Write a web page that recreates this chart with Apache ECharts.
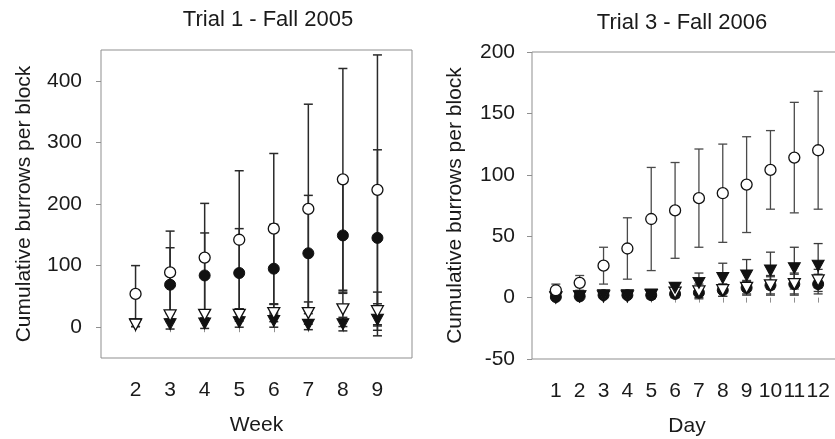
<!DOCTYPE html>
<html>
<head>
<meta charset="utf-8">
<script src="https://cdn.jsdelivr.net/npm/echarts@6/dist/echarts.min.js"></script>
<style>
  html, body { margin: 0; padding: 0; background: #fff; }
  #chart { width: 835px; height: 439px; }
</style>
</head>
<body>
<div id="chart"></div>
<script>
// Trial 1 (Fall 2005): cumulative burrows per block, by week (mean and error)
const weeks = [2, 3, 4, 5, 6, 7, 8, 9];
const t1OpenCircle     = [54, 89, 113, 142, 160, 192, 240, 223];
const t1OpenCircleErr  = [46, 67, 88, 112, 122, 170, 180, 219];
const t1FilledCircle    = [null, 69, 84, 88, 95, 120, 149, 145];
const t1FilledCircleErr = [null, 60, 69, 72, 72, 94, 94, 143];
const t1OpenTri     = [4, 19, 20, 20, 23, 23, 29, 26];
const t1OpenTriErr  = [3, 8, 8, 10, 14, 18, 28, 31];
const t1FilledTri    = [5, 5, 6, 8, 10, 4, 5, 12];
const t1FilledTriErr = [4, 8, 8, 8, 10, 8, 11, 26];

// Trial 3 (Fall 2006): cumulative burrows per block, by day
const days = [1, 2, 3, 4, 5, 6, 7, 8, 9, 10, 11, 12];
const t3OpenCircle     = [6, 12, 26, 40, 64, 71, 81, 85, 92, 104, 114, 120];
const t3OpenCircleErr  = [5, 6, 15, 25, 42, 39, 40, 40, 39, 32, 45, 48];
const t3FilledTri    = [0.5, 1, 2, 2, 2.5, 8, 12, 16, 18, 22, 24, 26];
const t3FilledTriErr = [1, 1, 2, 2, 3, 4, 8, 12, 13, 15, 17, 18];
const t3OpenTri     = [0, 1, 1, 1, 2, 4, 5, 6, 8, 10, 11, 14];
const t3OpenTriErr  = [1, 1, 1, 1, 3, 4, 6, 5, 6, 8, 9, 9];
const t3FilledCircle    = [0.5, 1, 2, 2, 2, 3, 4, 6, 8, 10, 11, 11];
const t3FilledCircleErr = [1, 1, 1, 1, 2, 3, 4, 5, 5, 7, 8, 8];

// Tick labels
const t1YTicks = [0, 100, 200, 300, 400];
const t3YTicks = [-50, 0, 50, 100, 150, 200];

const FONT = '"Liberation Sans", Arial, sans-serif';
const TEXT = '#1a1a1a';
const FRAME = '#8f8f8f';
const INK = '#111';

function points(xs, ys, errs) {
  const out = [];
  xs.forEach((x, i) => { if (ys[i] != null) out.push([x, ys[i], errs[i]]); });
  return out;
}

function errorBars(gi, data, color, width, cap) {
  return {
    type: 'custom', xAxisIndex: gi, yAxisIndex: gi, data, z: 2, silent: true,
    encode: { x: 0, y: 1 },
    renderItem(params, api) {
      const x = api.value(0), y = api.value(1), e = api.value(2);
      const top = api.coord([x, y + e]);
      const bot = api.coord([x, y - e]);
      const h = cap / 2;
      const st = { stroke: color, lineWidth: width };
      return {
        type: 'group', children: [
          { type: 'line', shape: { x1: top[0], y1: top[1], x2: bot[0], y2: bot[1] }, style: st },
          { type: 'line', shape: { x1: top[0] - h, y1: top[1], x2: top[0] + h, y2: top[1] }, style: st },
          { type: 'line', shape: { x1: bot[0] - h, y1: bot[1], x2: bot[0] + h, y2: bot[1] }, style: st }
        ]
      };
    }
  };
}

function markers(gi, data, kind) {
  const base = { type: 'scatter', xAxisIndex: gi, yAxisIndex: gi, data, z: 5, silent: true,
    encode: { x: 0, y: 1 } };
  if (kind === 'openCircle') return Object.assign(base, { symbol: 'circle', symbolSize: 11,
    itemStyle: { color: '#fff', borderColor: INK, borderWidth: 1.3, opacity: 1 } });
  if (kind === 'filledCircle') return Object.assign(base, { symbol: 'circle', symbolSize: 11,
    itemStyle: { color: INK, borderColor: INK, borderWidth: 1, opacity: 1 } });
  if (kind === 'openTri') return Object.assign(base, { symbol: 'triangle', symbolRotate: 180, symbolSize: [12, 11],
    itemStyle: { color: '#fff', borderColor: INK, borderWidth: 1.3, opacity: 1 } });
  return Object.assign(base, { symbol: 'triangle', symbolRotate: 180, symbolSize: [12, 11],
    itemStyle: { color: INK, borderColor: INK, borderWidth: 1, opacity: 1 } });
}

function xAxis(gi, min, max, ticks, name) {
  return {
    type: 'value', gridIndex: gi, min, max,
    name, nameLocation: 'middle', nameGap: 57,
    nameTextStyle: { fontFamily: FONT, fontSize: 21, color: TEXT },
    axisLine: { show: false },
    axisTick: { show: true, inside: false, length: 5, customValues: ticks, lineStyle: { color: FRAME, width: 1 } },
    axisLabel: { customValues: ticks, margin: 22, fontFamily: FONT, fontSize: 21, color: TEXT },
    splitLine: { show: false }
  };
}

function yAxis(gi, min, max, ticks, gap, margin) {
  return {
    type: 'value', gridIndex: gi, min, max,
    name: 'Cumulative burrows per block', nameLocation: 'middle', nameGap: gap,
    nameTextStyle: { fontFamily: FONT, fontSize: 21, color: TEXT },
    axisLine: { show: false },
    axisTick: { show: true, inside: false, length: 5, customValues: ticks, lineStyle: { color: FRAME, width: 1 } },
    axisLabel: { customValues: ticks, margin, fontFamily: FONT, fontSize: 21, color: TEXT },
    splitLine: { show: false }
  };
}

const chart = echarts.init(document.getElementById('chart'), null, { renderer: 'canvas' });

const series = [
  errorBars(0, points(weeks, t1FilledTri, t1FilledTriErr), '#2a2a2a', 1.5, 9),
  errorBars(0, points(weeks, t1OpenTri, t1OpenTriErr), '#2a2a2a', 1.5, 9),
  errorBars(0, points(weeks, t1FilledCircle, t1FilledCircleErr), '#2a2a2a', 1.5, 9),
  errorBars(0, points(weeks, t1OpenCircle, t1OpenCircleErr), '#2a2a2a', 1.5, 9),
  markers(0, points(weeks, t1FilledTri, t1FilledTriErr), 'filledTri'),
  markers(0, points(weeks, t1OpenTri, t1OpenTriErr), 'openTri'),
  markers(0, points(weeks, t1FilledCircle, t1FilledCircleErr), 'filledCircle'),
  markers(0, points(weeks, t1OpenCircle, t1OpenCircleErr), 'openCircle'),

  errorBars(1, points(days, t3FilledCircle, t3FilledCircleErr), '#3a3a3a', 1.3, 9),
  errorBars(1, points(days, t3OpenTri, t3OpenTriErr), '#3a3a3a', 1.3, 9),
  errorBars(1, points(days, t3FilledTri, t3FilledTriErr), '#3a3a3a', 1.3, 9),
  errorBars(1, points(days, t3OpenCircle, t3OpenCircleErr), '#4a4a4a', 1.3, 9),
  markers(1, points(days, t3FilledCircle, t3FilledCircleErr), 'filledCircle'),
  markers(1, points(days, t3OpenTri, t3OpenTriErr), 'openTri'),
  markers(1, points(days, t3FilledTri, t3FilledTriErr), 'filledTri'),
  markers(1, points(days, t3OpenCircle, t3OpenCircleErr), 'openCircle')
];

chart.setOption({
  backgroundColor: '#fff',
  animation: false,
  title: [
    { text: 'Trial 1 - Fall 2005', left: 268, top: 9, textAlign: 'center', padding: 0,
      textStyle: { fontFamily: FONT, fontSize: 22, fontWeight: 'normal', color: TEXT } },
    { text: 'Trial 3 - Fall 2006', left: 682, top: 12, textAlign: 'center', padding: 0,
      textStyle: { fontFamily: FONT, fontSize: 22, fontWeight: 'normal', color: TEXT } }
  ],
  grid: [
    { left: 101, top: 50, width: 311, height: 308, outerBoundsMode: 'none', containLabel: false,
      show: true, borderColor: FRAME, borderWidth: 1, backgroundColor: 'transparent' },
    { left: 532, top: 52, width: 310, height: 307, outerBoundsMode: 'none', containLabel: false,
      show: true, borderColor: FRAME, borderWidth: 1, backgroundColor: 'transparent' }
  ],
  xAxis: [
    xAxis(0, 1, 10, weeks, 'Week'),
    xAxis(1, 0, 13, days, 'Day')
  ],
  yAxis: [
    yAxis(0, -50, 450, t1YTicks, 66, 19),
    yAxis(1, -50, 200, t3YTicks, 66, 17)
  ],
  series
});
</script>
</body>
</html>
